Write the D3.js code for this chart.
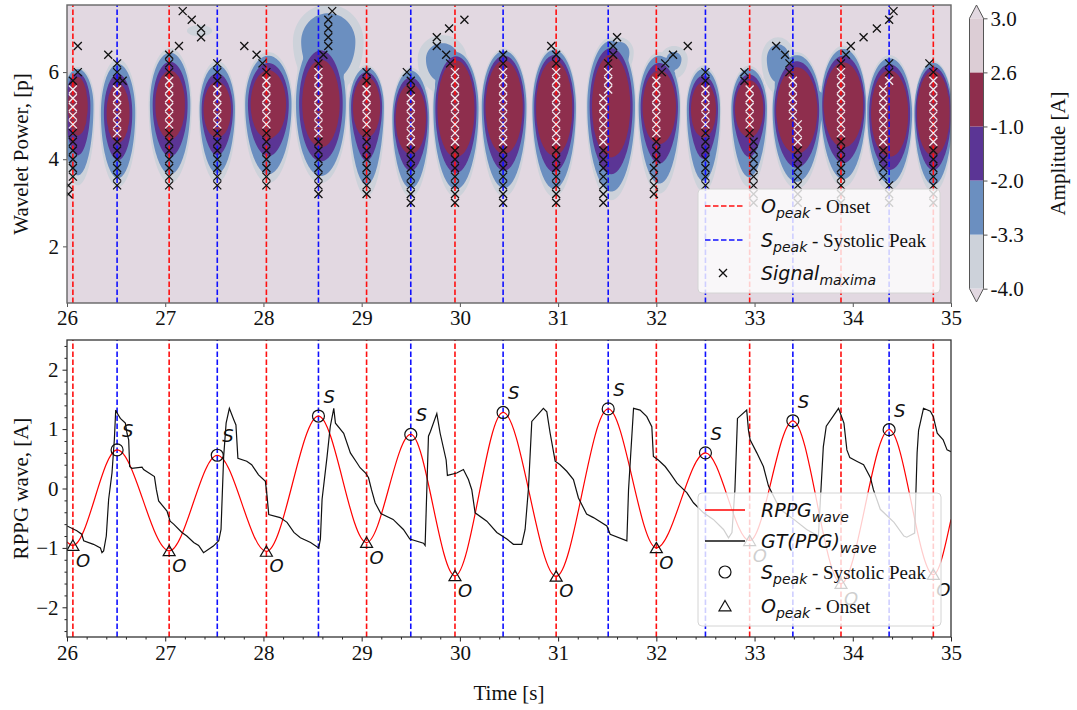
<!DOCTYPE html>
<html>
<head>
<meta charset="utf-8">
<script src="https://cdn.jsdelivr.net/npm/d3@7"></script>
<style>
  body { margin: 0; background: #fff; }
  svg text { font-family: "Liberation Serif", "Times New Roman", serif; fill: #111; }
  .math { font-family: "DejaVu Sans", sans-serif; font-style: italic; }
</style>
</head>
<body>
<svg id="chart" width="1077" height="710"></svg>
<script>
// ---------------- data ----------------
const timeDomain = [26, 35];
const periodDomain = [0.70, 7.54];
const ampDomain = [-2.5, 2.5];

// detected onsets (O) and systolic peaks (S) of the RPPG wave
const onsetTimes  = [26.06, 27.04, 28.03, 29.05, 29.95, 30.98, 32.00, 32.95, 33.88, 34.82];
const onsetValues = [-0.96, -1.05, -1.06, -0.91, -1.47, -1.48, -1.00, -0.88, -1.60, -1.45];
const peakTimes   = [26.51, 27.53, 28.56, 29.50, 30.44, 31.51, 32.50, 33.39, 34.37];
const peakValues  = [0.65, 0.56, 1.22, 0.91, 1.28, 1.34, 0.60, 1.14, 0.99];
const rppgEdges   = [[26.00, -0.90], [35.00, -0.52]];

// ground-truth PPG wave
const gtTime = [26.00,26.10,26.15,26.17,26.27,26.34,26.356,26.373,26.40,26.424,26.458,26.482,26.496,26.51,26.543,26.594,26.611,26.628,26.638,26.66,26.764,26.78,26.89,26.91,26.933,27.018,27.05,27.086,27.17,27.22,27.29,27.34,27.39,27.49,27.545,27.568,27.595,27.62,27.653,27.70,27.72,27.74,27.83,27.88,27.95,28.02,28.037,28.054,28.17,28.24,28.31,28.376,28.48,28.563,28.58,28.597,28.648,28.68,28.716,28.733,28.817,28.885,28.953,28.984,29.04,29.07,29.10,29.137,29.195,29.32,29.425,29.49,29.629,29.646,29.68,29.70,29.765,29.799,29.86,29.873,29.968,30.036,30.087,30.121,30.155,30.274,30.376,30.478,30.545,30.63,30.664,30.698,30.732,30.85,30.885,30.919,30.97,31.02,31.088,31.156,31.207,31.29,31.36,31.496,31.53,31.70,31.717,31.768,31.835,31.903,31.954,31.97,32.02,32.09,32.14,32.21,32.31,32.378,32.48,32.58,32.684,32.735,32.77,32.80,32.826,32.92,32.938,32.955,33.023,33.09,33.142,33.26,33.40,33.53,33.65,33.70,33.73,33.855,33.91,33.94,33.97,34.04,34.11,34.18,34.21,34.28,34.42,34.52,34.55,34.63,34.655,34.67,34.72,34.79,34.82,34.86,34.92,34.96,35.00];
const gtValue = [-0.63,-0.71,-0.77,-0.88,-0.94,-1.00,-1.08,-1.05,-0.80,-0.18,0.26,0.82,1.32,1.27,1.18,1.10,0.93,0.82,0.37,0.34,0.36,0.32,0.20,-0.02,-0.21,-0.38,-0.55,-0.60,-0.74,-0.80,-0.91,-0.96,-1.08,-0.97,-0.88,-0.69,0.54,1.10,1.35,1.15,1.07,0.51,0.46,0.40,0.23,0.12,-0.13,-0.44,-0.49,-0.57,-0.74,-0.83,-0.91,-1.00,-0.85,-0.18,0.54,1.04,1.35,1.10,0.93,0.60,0.43,0.35,0.26,0.18,-0.02,-0.24,-0.42,-0.52,-0.69,-0.85,-0.92,-0.96,0.88,0.96,1.26,0.93,0.48,0.22,0.26,0.32,0.15,-0.02,-0.41,-0.55,-0.74,-0.85,-0.94,-0.94,-0.69,0.00,1.13,1.35,1.29,0.93,0.46,0.40,0.29,0.15,-0.16,-0.43,-0.49,-0.63,-0.77,-0.88,-0.02,1.35,1.32,1.21,1.04,0.54,0.48,0.37,0.26,0.09,-0.07,-0.24,-0.41,-0.52,-0.69,-0.83,-0.74,-0.02,1.18,1.32,0.98,0.82,0.60,0.37,0.04,-0.35,-0.52,-0.69,-0.80,0.70,1.05,1.35,1.10,0.65,0.52,0.46,0.40,0.18,-0.02,-0.35,-0.57,-0.80,-0.82,-0.75,0.60,0.98,1.35,1.30,1.21,0.93,0.82,0.65,0.62];

// wavelet power blobs: centre, inner (-1 level) and outer (-4 level) half-extents
const blobTime   = [26.11, 26.52, 27.05, 27.53, 28.05, 28.585, 29.05, 29.50, 29.96, 30.45, 30.96, 31.54, 32.03, 32.48, 32.945, 33.43, 33.905, 34.375, 34.82];
const blobPeriod = [5.22, 5.06, 5.25, 5.14, 5.26, 5.28, 5.20, 4.93, 5.16, 5.20, 5.18, 5.22, 5.20, 5.14, 5.16, 5.12, 5.25, 5.05, 5.06];
const coreWidth  = [0.097, 0.114, 0.15, 0.14, 0.18, 0.19, 0.14, 0.156, 0.19, 0.19, 0.186, 0.195, 0.17, 0.127, 0.145, 0.21, 0.204, 0.19, 0.17];
const coreHeight = [0.67, 0.67, 0.78, 0.64, 0.78, 1.00, 0.69, 0.80, 1.11, 1.07, 1.09, 1.17, 0.84, 0.63, 0.65, 0.99, 0.97, 0.99, 0.97];
const outerWidth = [0.175, 0.19, 0.22, 0.19, 0.25, 0.27, 0.185, 0.195, 0.24, 0.237, 0.23, 0.255, 0.22, 0.18, 0.19, 0.255, 0.237, 0.237, 0.20];
const outerUp    = [0.90, 1.24, 1.30, 1.12, 1.20, 1.55, 0.96, 1.18, 1.34, 1.34, 1.39, 1.58, 1.26, 1.01, 0.99, 1.34, 1.36, 1.34, 1.20];
const outerDown  = [1.82, 1.70, 1.80, 1.67, 1.81, 1.83, 2.06, 1.80, 2.03, 2.06, 2.05, 2.16, 1.99, 1.89, 1.80, 1.80, 1.89, 1.76, 1.82];
const blobPeak = 2.0;

// weaker side lobes
const lobeTime   = [27.35, 28.66, 29.82, 31.62, 32.18, 33.24];
const lobePeriod = [6.95, 6.70, 6.30, 6.45, 6.30, 6.30];
const lobeWidth  = [0.13, 0.36, 0.25, 0.15, 0.14, 0.17];
const lobeUp     = [0.13, 0.85, 0.55, 0.35, 0.30, 0.50];
const lobeDown   = [0.13, 1.20, 0.80, 0.50, 0.45, 0.80];
const lobePeak   = [-3.6, -2.3, -2.75, -2.6, -3.0, -2.7];

// contour levels and their colours
const contourLevels = [-4.0, -3.3, -2.0, -1.0, 2.6, 3.0];
const bandColors = ['#cdd2da', '#6b8fc0', '#5b3595', '#8e2e4d', '#dccdd5'];
const underColor = '#e2d8e1', overColor = '#e2d8e1';

// signal maxima: wavelet scale rows, ridge columns [time, lowest, highest], extra points
const scaleRows = [3.0,3.2,3.4,3.6,3.8,4.0,4.2,4.4,4.6,4.8,5.0,5.2,5.4,5.6,5.8,6.0,6.2,6.4,6.6,6.8,7.0,7.2,7.4];
const ridgeColumns = [
  [26.06, 3.6, 5.8], [26.51, 3.4, 6.2], [27.04, 3.4, 6.4], [27.53, 3.4, 6.2], [28.03, 3.4, 6.0],
  [28.56, 3.2, 6.2], [29.05, 3.2, 6.0], [29.50, 3.0, 5.8], [29.95, 3.0, 6.0], [30.44, 3.0, 6.4],
  [30.98, 3.0, 6.4], [31.51, 5.6, 6.2], [31.46, 3.0, 5.4], [32.00, 4.0, 5.8], [31.975, 3.2, 3.8],
  [32.50, 3.4, 6.0], [32.95, 4.6, 5.6], [32.99, 3.0, 4.4], [33.39, 5.0, 5.8], [33.44, 3.0, 4.8],
  [33.88, 3.0, 6.2], [34.37, 5.8, 6.2], [34.31, 3.6, 5.6], [34.37, 3.0, 3.4], [34.82, 3.0, 6.0]
];
const ridgeExtra = [
  [26.11, 6.6], [26.11, 6.0], [26.014, 3.4], [26.014, 3.2], [26.42, 6.4], [26.567, 5.8],
  [27.14, 6.6], [27.178, 7.4], [27.27, 7.2], [27.365, 7.0], [27.365, 6.8],
  [27.805, 6.6], [27.93, 6.4], [27.99, 6.2],
  [28.70, 7.4], [28.66, 7.2], [28.66, 7.0], [28.66, 6.8], [28.66, 6.6], [28.61, 6.4],
  [29.46, 6.0], [29.765, 6.8], [29.765, 6.6], [29.86, 6.4], [29.90, 6.2], [29.89, 7.0], [30.046, 7.2],
  [30.93, 6.6], [31.60, 6.8], [31.56, 6.6], [31.56, 6.4],
  [32.056, 6.0], [32.09, 6.2], [32.17, 6.4], [32.32, 6.6], [32.897, 6.0], [32.897, 5.8],
  [33.22, 6.6], [33.31, 6.4], [33.355, 6.2], [33.355, 6.0],
  [33.98, 6.6], [33.93, 6.4], [34.11, 6.8], [34.245, 7.0], [34.37, 7.2], [34.415, 7.4], [34.78, 6.2]
];

const timeTicks = d3.range(26, 36, 1);
const periodTicks = [2, 4, 6];
const ampTicks = [-2, -1, 0, 1, 2];

// ---------------- layout ----------------
const svg = d3.select('#chart');
const X0 = 67, X1 = 951;
const P1 = { top: 5, bottom: 303 };
const P2 = { top: 340, bottom: 637 };
const x = d3.scaleLinear(timeDomain, [X0, X1]);
const yW = d3.scaleLinear(periodDomain, [P1.bottom, P1.top]);
const yA = d3.scaleLinear(ampDomain, [P2.bottom, P2.top]);

const defs = svg.append('defs');
defs.append('clipPath').attr('id', 'clipTop').append('rect')
  .attr('x', X0).attr('y', P1.top).attr('width', X1 - X0).attr('height', P1.bottom - P1.top);
defs.append('clipPath').attr('id', 'clipBot').append('rect')
  .attr('x', X0).attr('y', P2.top).attr('width', X1 - X0).attr('height', P2.bottom - P2.top);

// ---------------- wavelet field ----------------
const GAMMA = 1.2;
function blobValue(i, t, p) {
  const dt = t - blobTime[i], dp = p - blobPeriod[i];
  const sc = Math.hypot(dt / coreWidth[i], dp / coreHeight[i]);
  if (sc <= 1) return blobPeak - (blobPeak + 1) * sc * sc;
  const so = Math.hypot(dt / outerWidth[i], dp / (dp > 0 ? outerUp[i] : outerDown[i]));
  const m = Math.max(sc / so, 1.05);
  return -1 - 3 * Math.pow((sc - 1) / (m - 1), GAMMA);
}
function lobeValue(i, t, p) {
  const dt = (t - lobeTime[i]) / lobeWidth[i];
  const dp = p - lobePeriod[i];
  const dv = dp / (dp > 0 ? lobeUp[i] : lobeDown[i]);
  return lobePeak[i] - (lobePeak[i] + 4) * (dt * dt + dv * dv);
}
function field(t, p) {
  let v = -8;
  for (let i = 0; i < blobTime.length; i++) {
    if (Math.abs(t - blobTime[i]) < 0.6) v = Math.max(v, blobValue(i, t, p));
  }
  for (let i = 0; i < lobeTime.length; i++) {
    if (Math.abs(t - lobeTime[i]) < 0.8) v = Math.max(v, lobeValue(i, t, p));
  }
  return v;
}

const nx = 451, ny = 172;
const dtg = (timeDomain[1] - timeDomain[0]) / (nx - 1);
const dpg = (periodDomain[1] - periodDomain[0]) / (ny - 1);
const grid = new Float64Array(nx * ny);
for (let j = 0; j < ny; j++) {
  const p = periodDomain[1] - j * dpg;
  for (let i = 0; i < nx; i++) grid[j * nx + i] = field(timeDomain[0] + i * dtg, p);
}
const contours = d3.contours().size([nx, ny]).thresholds(contourLevels)(grid);
const gridToScreen = d3.geoTransform({
  point(gx, gy) {
    this.stream.point(x(timeDomain[0] + (gx - 0.5) * dtg), yW(periodDomain[1] - (gy - 0.5) * dpg));
  }
});
const contourPath = d3.geoPath(gridToScreen);

// ---------------- top panel ----------------
const gTop = svg.append('g');
const topPlot = gTop.append('g').attr('clip-path', 'url(#clipTop)');
topPlot.append('rect').attr('x', X0).attr('y', P1.top)
  .attr('width', X1 - X0).attr('height', P1.bottom - P1.top).attr('fill', underColor);
topPlot.selectAll('path.band').data(contours).join('path')
  .attr('class', 'band')
  .attr('d', contourPath)
  .attr('fill', (d, i) => i < bandColors.length ? bandColors[i] : overColor);

function eventLines(g, yScale) {
  g.selectAll(null).data(onsetTimes).join('line')
    .attr('x1', d => x(d)).attr('x2', d => x(d))
    .attr('y1', yScale.range()[0]).attr('y2', yScale.range()[1])
    .attr('stroke', '#ff1010').attr('stroke-width', 1.6).attr('stroke-dasharray', '5.5,2.5');
  g.selectAll(null).data(peakTimes).join('line')
    .attr('x1', d => x(d)).attr('x2', d => x(d))
    .attr('y1', yScale.range()[0]).attr('y2', yScale.range()[1])
    .attr('stroke', '#1010ff').attr('stroke-width', 1.6).attr('stroke-dasharray', '5.5,2.5');
}
eventLines(topPlot, yW);

// signal maxima crosses
const maxima = [];
ridgeColumns.forEach(([t, lo, hi]) => {
  scaleRows.filter(p => p >= lo - 1e-6 && p <= hi + 1e-6).forEach(p => maxima.push([t, p]));
});
ridgeExtra.forEach(d => maxima.push(d));
const crossPath = 'M-4,-4L4,4M-4,4L4,-4';
topPlot.selectAll('path.max').data(maxima).join('path')
  .attr('class', 'max')
  .attr('d', crossPath)
  .attr('transform', d => `translate(${x(d[0])},${yW(d[1])})`)
  .attr('fill', 'none')
  .attr('stroke', d => field(d[0], d[1]) >= 0 ? '#f4eef2' : '#111')
  .attr('stroke-width', 1.3);

// axes
function styleAxis(g, color) {
  g.select('.domain').remove();
  g.selectAll('.tick line').attr('stroke', color).attr('stroke-width', 1);
  g.selectAll('.tick text').attr('font-family', '"Liberation Serif", serif')
    .attr('font-size', 21).attr('fill', '#111');
}
gTop.append('g').attr('transform', `translate(0,${P1.bottom})`)
  .call(d3.axisBottom(x).tickValues(timeTicks).tickFormat(d3.format('d')).tickSize(4).tickPadding(3.5))
  .call(g => styleAxis(g, '#555'));
gTop.append('g').attr('transform', `translate(${X0},0)`)
  .call(d3.axisLeft(yW).tickValues(periodTicks).tickFormat(d3.format('d')).tickSize(4).tickPadding(4))
  .call(g => styleAxis(g, '#555'));
gTop.append('rect').attr('x', X0).attr('y', P1.top)
  .attr('width', X1 - X0).attr('height', P1.bottom - P1.top)
  .attr('fill', 'none').attr('stroke', '#666').attr('stroke-width', 1.4);

gTop.append('text').attr('transform', `translate(21,${(P1.top + P1.bottom) / 2}) rotate(-90)`)
  .attr('text-anchor', 'middle').attr('dominant-baseline', 'central')
  .attr('font-size', 21).text('Wavelet Power, [p]');

// ---------------- colorbar ----------------
const CB = { x0: 969.5, x1: 983.5, top: 18.3, bottom: 288.7, tipTop: 5, tipBottom: 302 };
const cb = d3.scaleLinear([0, contourLevels.length - 1], [CB.bottom, CB.top]);
const gCb = svg.append('g');
bandColors.forEach((c, i) => {
  gCb.append('rect').attr('x', CB.x0).attr('y', cb(i + 1))
    .attr('width', CB.x1 - CB.x0).attr('height', cb(i) - cb(i + 1)).attr('fill', c);
});
const cxm = (CB.x0 + CB.x1) / 2;
gCb.append('path').attr('d', `M${CB.x0},${CB.top}L${cxm},${CB.tipTop}L${CB.x1},${CB.top}Z`).attr('fill', overColor);
gCb.append('path').attr('d', `M${CB.x0},${CB.bottom}L${cxm},${CB.tipBottom}L${CB.x1},${CB.bottom}Z`).attr('fill', underColor);
gCb.append('path')
  .attr('d', `M${CB.x0},${CB.top}L${cxm},${CB.tipTop}L${CB.x1},${CB.top}L${CB.x1},${CB.bottom}L${cxm},${CB.tipBottom}L${CB.x0},${CB.bottom}Z`)
  .attr('fill', 'none').attr('stroke', '#555').attr('stroke-width', 1);
gCb.append('g').attr('transform', `translate(${CB.x1},0)`)
  .call(d3.axisRight(cb).tickValues(d3.range(contourLevels.length))
    .tickFormat(i => contourLevels[i].toFixed(1)).tickSize(4).tickPadding(3))
  .call(g => styleAxis(g, '#555'));
gCb.append('text').attr('transform', `translate(1058,${(CB.top + CB.bottom) / 2}) rotate(-90)`)
  .attr('text-anchor', 'middle').attr('dominant-baseline', 'central')
  .attr('font-size', 21).text('Amplitude [A]');

// ---------------- bottom panel ----------------
const gBot = svg.append('g');
const botPlot = gBot.append('g').attr('clip-path', 'url(#clipBot)');
eventLines(botPlot, yA);

const rppg = [rppgEdges[0]]
  .concat(onsetTimes.map((t, i) => [t, onsetValues[i]]), peakTimes.map((t, i) => [t, peakValues[i]]))
  .concat([rppgEdges[1]])
  .sort((a, b) => a[0] - b[0]);
botPlot.append('path').datum(rppg)
  .attr('d', d3.line().x(d => x(d[0])).y(d => yA(d[1])).curve(d3.curveMonotoneX))
  .attr('fill', 'none').attr('stroke', '#ff0000').attr('stroke-width', 1.2);
botPlot.append('path').datum(gtTime.map((t, i) => [t, gtValue[i]]))
  .attr('d', d3.line().x(d => x(d[0])).y(d => yA(d[1])))
  .attr('fill', 'none').attr('stroke', '#111').attr('stroke-width', 1.2);

const triPath = 'M0,-5.5L6,4.8L-6,4.8Z';
botPlot.selectAll('circle.s').data(peakTimes).join('circle')
  .attr('cx', d => x(d)).attr('cy', (d, i) => yA(peakValues[i])).attr('r', 6)
  .attr('fill', 'none').attr('stroke', '#111').attr('stroke-width', 1.2);
botPlot.selectAll('path.o').data(onsetTimes).join('path')
  .attr('d', triPath)
  .attr('transform', (d, i) => `translate(${x(d)},${yA(onsetValues[i])})`)
  .attr('fill', 'none').attr('stroke', '#111').attr('stroke-width', 1.2);
gBot.selectAll('text.s').data(peakTimes).join('text')
  .attr('class', 'math').attr('font-size', 18)
  .attr('x', d => x(d) + 5).attr('y', (d, i) => yA(peakValues[i]) - 13).text('S');
gBot.selectAll('text.o').data(onsetTimes).join('text')
  .attr('class', 'math').attr('font-size', 18)
  .attr('x', d => x(d) + 3).attr('y', (d, i) => yA(onsetValues[i]) + 21).text('O');

// axes with minor ticks
const minorT = d3.range(26, 35.0001, 0.2).filter(v => Math.abs(v - Math.round(v)) > 1e-6);
const minorA = d3.range(-2.4, 2.4001, 0.2).filter(v => Math.abs(v - Math.round(v)) > 1e-6);
gBot.append('g').attr('transform', `translate(0,${P2.bottom})`)
  .call(d3.axisBottom(x).tickValues(minorT).tickFormat('').tickSize(2.5))
  .call(g => styleAxis(g, '#222'));
gBot.append('g').attr('transform', `translate(${X0},0)`)
  .call(d3.axisLeft(yA).tickValues(minorA).tickFormat('').tickSize(2.5))
  .call(g => styleAxis(g, '#222'));
gBot.append('g').attr('transform', `translate(0,${P2.bottom})`)
  .call(d3.axisBottom(x).tickValues(timeTicks).tickFormat(d3.format('d')).tickSize(4.5).tickPadding(3.5))
  .call(g => styleAxis(g, '#222'));
gBot.append('g').attr('transform', `translate(${X0},0)`)
  .call(d3.axisLeft(yA).tickValues(ampTicks).tickFormat(d3.format('d')).tickSize(4.5).tickPadding(4))
  .call(g => styleAxis(g, '#222'));
gBot.append('rect').attr('x', X0).attr('y', P2.top)
  .attr('width', X1 - X0).attr('height', P2.bottom - P2.top)
  .attr('fill', 'none').attr('stroke', '#333').attr('stroke-width', 1.3);

gBot.append('text').attr('transform', `translate(21,${(P2.top + P2.bottom) / 2}) rotate(-90)`)
  .attr('text-anchor', 'middle').attr('dominant-baseline', 'central')
  .attr('font-size', 21).text('RPPG wave, [A]');
svg.append('text').attr('x', (X0 + X1) / 2).attr('y', 700)
  .attr('text-anchor', 'middle').attr('font-size', 21).text('Time [s]');

// ---------------- legends ----------------
function legendBox(x0, y0, x1, y1) {
  svg.append('rect').attr('x', x0).attr('y', y0).attr('width', x1 - x0).attr('height', y1 - y0)
    .attr('rx', 4).attr('fill', '#fff').attr('fill-opacity', 0.8)
    .attr('stroke', '#d4d4d4').attr('stroke-width', 1);
}
// parts: [text, kind] where kind is 'm' (math italic), 's' (math subscript) or 'r' (roman)
function legendText(xp, yp, parts) {
  const t = svg.append('text').attr('x', xp).attr('y', yp);
  let shift = 0;
  parts.forEach(([s, kind]) => {
    const span = t.append('tspan').text(s);
    const target = kind === 's' ? 4.5 : 0;
    span.attr('dy', target - shift);
    shift = target;
    if (kind === 'm') span.attr('class', 'math').attr('font-size', 19);
    else if (kind === 's') span.attr('class', 'math').attr('font-size', 14);
    else span.attr('font-size', 19);
  });
}

legendBox(698, 189, 940, 293);
svg.append('line').attr('x1', 705).attr('x2', 743).attr('y1', 206).attr('y2', 206)
  .attr('stroke', '#ff1010').attr('stroke-width', 1.6).attr('stroke-dasharray', '5.5,2.5');
svg.append('line').attr('x1', 705).attr('x2', 743).attr('y1', 240).attr('y2', 240)
  .attr('stroke', '#1010ff').attr('stroke-width', 1.6).attr('stroke-dasharray', '5.5,2.5');
svg.append('path').attr('d', crossPath).attr('transform', 'translate(723,273)')
  .attr('fill', 'none').attr('stroke', '#111').attr('stroke-width', 1.3);
legendText(761, 213, [['O', 'm'], ['peak', 's'], ['\u00a0- Onset', 'r']]);
legendText(761, 247, [['S', 'm'], ['peak', 's'], ['\u00a0- Systolic Peak', 'r']]);
legendText(761, 280, [['Signal', 'm'], ['maxima', 's']]);

legendBox(698, 493, 941, 626);
svg.append('line').attr('x1', 705).attr('x2', 745).attr('y1', 510).attr('y2', 510)
  .attr('stroke', '#ff0000').attr('stroke-width', 1.3);
svg.append('line').attr('x1', 705).attr('x2', 745).attr('y1', 541).attr('y2', 541)
  .attr('stroke', '#111').attr('stroke-width', 1.3);
svg.append('circle').attr('cx', 725).attr('cy', 572).attr('r', 6)
  .attr('fill', 'none').attr('stroke', '#111').attr('stroke-width', 1.2);
svg.append('path').attr('d', triPath).attr('transform', 'translate(725,606)')
  .attr('fill', 'none').attr('stroke', '#111').attr('stroke-width', 1.2);
legendText(761, 517, [['RPPG', 'm'], ['wave', 's']]);
legendText(761, 548, [['GT(PPG)', 'm'], ['wave', 's']]);
legendText(761, 579, [['S', 'm'], ['peak', 's'], ['\u00a0- Systolic Peak', 'r']]);
legendText(761, 613, [['O', 'm'], ['peak', 's'], ['\u00a0- Onset', 'r']]);
</script>
</body>
</html>
